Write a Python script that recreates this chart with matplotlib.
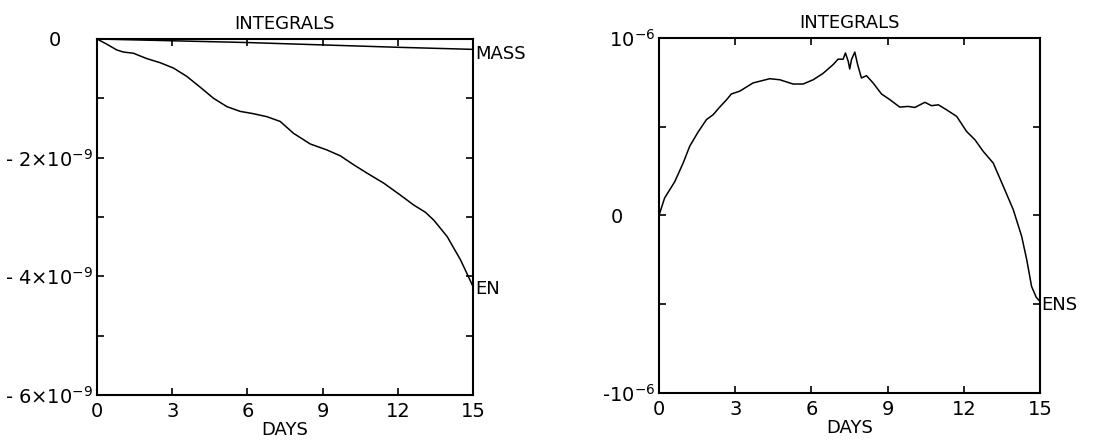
import matplotlib
matplotlib.use('Agg')
import matplotlib.pyplot as plt
from matplotlib.ticker import MultipleLocator

plt.rcParams['font.family'] = ['DejaVu Sans']
plt.rcParams['mathtext.default'] = 'regular'

# 左图: EN 和 MASS (单位 1e-9)
en_days = [0, 0.4, 0.79, 1.05, 1.45, 1.98, 2.52, 3.05, 3.58, 4.11, 4.65, 5.18, 5.71, 6.25,
           6.78, 7.31, 7.84, 8.51, 9.17, 9.71, 10.24, 10.77, 11.44, 12.1, 12.64,
           13.1, 13.43, 13.97, 14.5, 15]
en_vals = [0, -0.09, -0.185, -0.22, -0.24, -0.33, -0.40, -0.49, -0.63, -0.81, -1.0, -1.14,
           -1.22, -1.26, -1.31, -1.39, -1.59, -1.77, -1.87, -1.97, -2.12, -2.26,
           -2.43, -2.63, -2.80, -2.92, -3.05, -3.33, -3.72, -4.17]
mass_days = [0, 3, 6, 9, 12, 15]
mass_vals = [0, -0.03, -0.06, -0.10, -0.14, -0.175]

# 右图: ENS (单位 1e-6)
ens_days = [0, 0.22, 0.62, 0.95, 1.21, 1.54, 1.87, 2.13, 2.39, 2.65, 2.85, 3.18, 3.70,
            4.36, 4.76, 5.28, 5.67, 6.07, 6.46, 6.86, 7.05, 7.25, 7.34, 7.45, 7.51,
            7.58, 7.71, 7.82, 7.97, 8.17, 8.43, 8.76, 9.09, 9.48, 9.81, 10.07, 10.47,
            10.73, 11.0, 11.32, 11.72, 12.11, 12.44, 12.77, 13.16, 13.56, 13.95,
            14.28, 14.48, 14.67, 14.85, 15]
ens_vals = [0, 0.098, 0.19, 0.295, 0.39, 0.47, 0.54, 0.567, 0.61, 0.65, 0.684, 0.70,
            0.746, 0.77, 0.764, 0.74, 0.74, 0.764, 0.80, 0.85, 0.88, 0.88, 0.915,
            0.868, 0.825, 0.878, 0.92, 0.85, 0.774, 0.787, 0.746, 0.684, 0.652, 0.61,
            0.614, 0.608, 0.637, 0.618, 0.623, 0.595, 0.558, 0.473, 0.426, 0.36,
            0.295, 0.163, 0.032, -0.118, -0.25, -0.40, -0.46, -0.485]

x_ticks = [0, 3, 6, 9, 12, 15]
left_yticks = [0, -2, -4, -6]
left_ylabels = ['0     ', '- 2×10$^{-9}$', '- 4×10$^{-9}$', '- 6×10$^{-9}$']
right_yticks = [1, 0, -1]
right_ylabels = ['10$^{-6}$', '0     ', '-10$^{-6}$']

fs = 13
fig = plt.figure(figsize=(11.1, 4.45), dpi=100)
ax1 = fig.add_axes([0.0874, 0.1124, 0.3387, 0.800])
ax2 = fig.add_axes([0.5937, 0.1169, 0.3432, 0.798])


def style(ax):
    ax.set_xlim(0, 15)
    ax.set_xticks(x_ticks)
    ax.set_xticklabels([str(t) for t in x_ticks], fontsize=fs + 1)
    ax.tick_params(direction='in', top=True, right=True, length=5, width=1.2, pad=5)
    ax.tick_params(which='minor', direction='in', right=True, length=5, width=1.2)
    for s in ax.spines.values():
        s.set_linewidth(1.5)
    ax.set_title('INTEGRALS', fontsize=fs, pad=7)
    ax.set_xlabel('DAYS', fontsize=fs, labelpad=0)


ax1.plot(en_days, en_vals, color='black', lw=1.1)
ax1.plot(mass_days, mass_vals, color='black', lw=1.1)
ax1.set_ylim(-6, 0)
ax1.set_yticks(left_yticks)
ax1.set_yticklabels(left_ylabels, fontsize=fs + 1)
ax1.yaxis.set_minor_locator(MultipleLocator(1))
style(ax1)
ax1.tick_params(axis='y', pad=3)
ax1.text(15.1, mass_vals[-1] - 0.08, 'MASS', fontsize=fs, va='center', ha='left')
ax1.text(15.1, en_vals[-1] - 0.05, 'EN', fontsize=fs, va='center', ha='left')

ax2.plot(ens_days, ens_vals, color='black', lw=1.1)
ax2.set_ylim(-1, 1)
ax2.set_yticks(right_yticks)
ax2.set_yticklabels(right_ylabels, fontsize=fs + 1)
ax2.yaxis.set_minor_locator(MultipleLocator(0.5))
style(ax2)
ax2.tick_params(axis='y', pad=3)
ax2.text(15.05, ens_vals[-1] - 0.02, 'ENS', fontsize=fs, va='center', ha='left')

fig.savefig('out.png', dpi=100)
